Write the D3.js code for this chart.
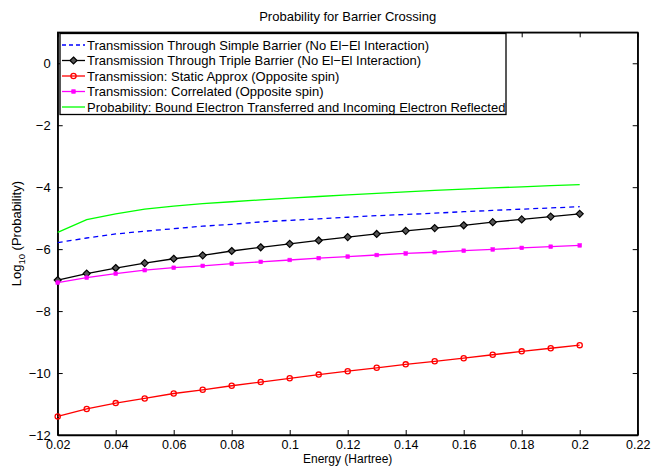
<!DOCTYPE html>
<html>
<head>
<meta charset="utf-8">
<script src="https://cdn.jsdelivr.net/npm/d3@7"></script>
<style>
  body { margin: 0; background: #fff; }
  svg text { font-family: "Liberation Sans", Arial, sans-serif; fill: #000; }
</style>
</head>
<body>
<script>
var width = 651,
    height = 466;

// energies (Hartree)
var energy = [0.02, 0.03, 0.04, 0.05, 0.06, 0.07, 0.08, 0.09, 0.10, 0.11,
              0.12, 0.13, 0.14, 0.15, 0.16, 0.17, 0.18, 0.19, 0.20];

// log10 probability per curve
var simpleBarrier = [-5.79, -5.64, -5.51, -5.42, -5.34, -5.26, -5.20, -5.12, -5.07, -5.02,
                     -4.97, -4.92, -4.88, -4.84, -4.79, -4.75, -4.71, -4.67, -4.63];
var tripleBarrier = [-7.00, -6.79, -6.61, -6.45, -6.31, -6.20, -6.06, -5.94, -5.83, -5.72,
                     -5.61, -5.51, -5.41, -5.32, -5.23, -5.13, -5.04, -4.95, -4.86];
var staticApprox = [-11.40, -11.16, -10.97, -10.82, -10.66, -10.54, -10.41, -10.29, -10.17, -10.05,
                    -9.94, -9.83, -9.72, -9.62, -9.52, -9.41, -9.30, -9.20, -9.10];
var correlated = [-7.08, -6.92, -6.79, -6.68, -6.60, -6.54, -6.47, -6.41, -6.35, -6.29,
                  -6.24, -6.19, -6.14, -6.10, -6.05, -6.01, -5.96, -5.92, -5.88];
var boundReflected = [-5.46, -5.05, -4.86, -4.71, -4.61, -4.53, -4.47, -4.41, -4.35, -4.30,
                      -4.25, -4.20, -4.15, -4.10, -4.06, -4.02, -3.99, -3.95, -3.92];

var xTicks = [0.02, 0.04, 0.06, 0.08, 0.1, 0.12, 0.14, 0.16, 0.18, 0.2, 0.22];
var yTicks = [-12, -10, -8, -6, -4, -2, 0];

var series = [
  { name: "Transmission Through Simple Barrier (No El\u2212El Interaction)", values: simpleBarrier, color: "#0000ff", dash: "5,4", marker: null },
  { name: "Transmission Through Triple Barrier (No El\u2212El Interaction)", values: tripleBarrier, color: "#000000", dash: null, marker: "diamond" },
  { name: "Transmission: Static Approx (Opposite spin)", values: staticApprox, color: "#ff0000", dash: null, marker: "circle" },
  { name: "Transmission: Correlated (Opposite spin)", values: correlated, color: "#ff00ff", dash: null, marker: "square" },
  { name: "Probability: Bound Electron Transferred and Incoming Electron Reflected", values: boundReflected, color: "#00ff00", dash: null, marker: null }
];

var margin = { left: 57.7, right: 651 - 637.7, top: 32.3, bottom: 466 - 435 };

var svg = d3.select("body").append("svg")
    .attr("width", width)
    .attr("height", height);

var x = d3.scaleLinear().domain([0.02, 0.22]).range([margin.left, width - margin.right]);
var y = d3.scaleLinear().domain([-12, 1]).range([height - margin.bottom, margin.top]);

var fmt = function(d) { return d3.format("")(d).replace("-", "\u2212"); };

// axes, ticks pointing inward on all four sides
svg.append("g")
    .attr("class", "xb")
    .attr("transform", "translate(0," + y(-12) + ")")
    .call(d3.axisBottom(x).tickValues(xTicks).tickSizeInner(-5).tickSizeOuter(0).tickPadding(5).tickFormat(fmt));
svg.append("g")
    .attr("transform", "translate(0," + y(1) + ")")
    .call(d3.axisTop(x).tickValues(xTicks).tickSizeInner(-5).tickSizeOuter(0).tickFormat(""));
svg.append("g")
    .attr("transform", "translate(" + x(0.02) + ",0)")
    .call(d3.axisLeft(y).tickValues(yTicks).tickSizeInner(-5).tickSizeOuter(0).tickPadding(7).tickFormat(fmt));
svg.append("g")
    .attr("transform", "translate(" + x(0.22) + ",0)")
    .call(d3.axisRight(y).tickValues(yTicks).tickSizeInner(-5).tickSizeOuter(0).tickFormat(""));

svg.selectAll(".domain").attr("stroke", "#000").attr("stroke-width", 1.3);
svg.selectAll(".tick line").attr("stroke", "#000").attr("stroke-width", 1);
svg.selectAll(".tick text").style("font-size", "13px").attr("fill", "#000");
svg.selectAll(".xb .tick text").style("font-size", "12.5px");

// frame
svg.append("rect")
    .attr("x", x(0.02)).attr("y", y(1))
    .attr("width", x(0.22) - x(0.02)).attr("height", y(-12) - y(1))
    .attr("fill", "none").attr("stroke", "#000").attr("stroke-width", 1.3);

function drawMarker(sel, type, color, cx, cy) {
  if (type === "diamond") {
    sel.append("path")
        .attr("d", "M" + cx + "," + (cy - 3.5) + "L" + (cx + 3.5) + "," + cy + "L" + cx + "," + (cy + 3.5) + "L" + (cx - 3.5) + "," + cy + "Z")
        .attr("fill", "#555").attr("stroke", color).attr("stroke-width", 1.2);
  } else if (type === "circle") {
    sel.append("circle").attr("cx", cx).attr("cy", cy).attr("r", 2.6)
        .attr("fill", "none").attr("stroke", color).attr("stroke-width", 1.3);
  } else if (type === "square") {
    sel.append("rect").attr("x", cx - 1.8).attr("y", cy - 1.8).attr("width", 3.6).attr("height", 3.6)
        .attr("fill", color).attr("stroke", color).attr("stroke-width", 0.6);
  }
}

var line = d3.line()
    .x(function(d) { return x(d[0]); })
    .y(function(d) { return y(d[1]); });

series.forEach(function(s) {
  var pts = energy.map(function(e, i) { return [e, s.values[i]]; });
  var g = svg.append("g");
  g.append("path")
      .datum(pts)
      .attr("d", line)
      .attr("fill", "none")
      .attr("stroke", s.color)
      .attr("stroke-width", 1.3)
      .attr("stroke-dasharray", s.dash);
  if (s.marker) {
    pts.forEach(function(p) { drawMarker(g, s.marker, s.color, x(p[0]), y(p[1])); });
  }
});

// legend
var legend = svg.append("g");
var lx = 60, ly = 33.5, rowH = 15.5;
legend.append("rect")
    .attr("x", lx).attr("y", ly)
    .attr("width", 446).attr("height", 81)
    .attr("fill", "#fff").attr("stroke", "#000").attr("stroke-width", 1.3);
series.forEach(function(s, i) {
  var cy = 45 + i * rowH;
  legend.append("line")
      .attr("x1", 62).attr("x2", 85).attr("y1", cy).attr("y2", cy)
      .attr("stroke", s.color).attr("stroke-width", 1.3)
      .attr("stroke-dasharray", s.dash ? "4,3" : null);
  if (s.marker) drawMarker(legend, s.marker, s.color, 73.5, cy);
  legend.append("text")
      .attr("x", 87).attr("y", cy + 4.6)
      .style("font-size", "13px")
      .text(s.name);
});

// title and labels
svg.append("text")
    .attr("x", (x(0.02) + x(0.22)) / 2).attr("y", 21)
    .attr("text-anchor", "middle")
    .style("font-size", "13px")
    .text("Probability for Barrier Crossing");

svg.append("text")
    .attr("x", (x(0.02) + x(0.22)) / 2).attr("y", 462.8)
    .attr("text-anchor", "middle")
    .style("font-size", "12px")
    .text("Energy (Hartree)");

var yl = svg.append("text")
    .attr("transform", "translate(21," + ((y(1) + y(-12)) / 2) + ") rotate(-90)")
    .attr("text-anchor", "middle")
    .style("font-size", "13px");
yl.append("tspan").text("Log");
yl.append("tspan").attr("dy", 4).style("font-size", "9.5px").text("10");
yl.append("tspan").attr("dy", -4).text(" (Probability)");
</script>
</body>
</html>
